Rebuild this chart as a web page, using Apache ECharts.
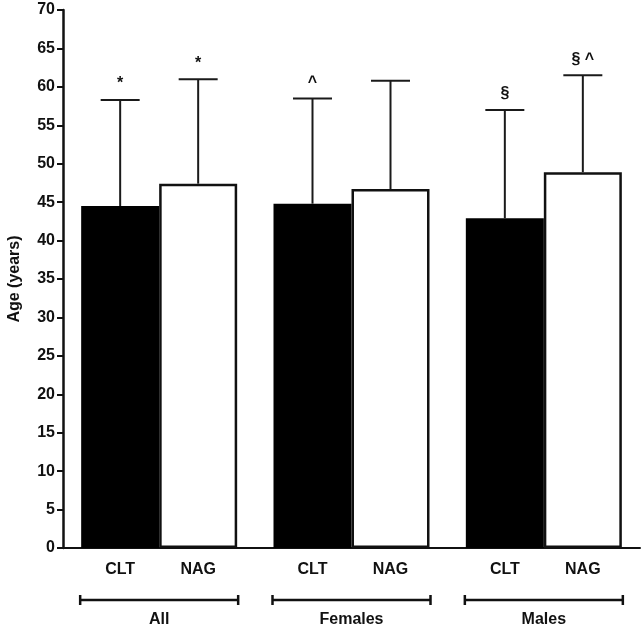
<!DOCTYPE html>
<html><head><meta charset="utf-8">
<script src="https://cdn.jsdelivr.net/npm/echarts@6/dist/echarts.min.js"></script>
<style>html,body{margin:0;padding:0;background:#fff}#c{width:642px;height:628px}</style>
</head><body><div id="c"></div>
<script>
const groups = ['All', 'Females', 'Males'];
const seriesNames = ['CLT', 'NAG'];
const cltMean = [44.5, 44.8, 42.9];
const cltSD = [13.8, 13.7, 14.1];
const nagMean = [47.4, 46.7, 48.9];
const nagSD = [13.6, 14.1, 12.6];
const cltAnn = ['*', '^', '§'];
const nagAnn = ['*', '', '§ ^'];
const yTicks = [0, 5, 10, 15, 20, 25, 30, 35, 40, 45, 50, 55, 60, 65, 70];

const FONT = '"Liberation Sans", Arial, sans-serif';
const BW = 78;

function errSeries(name, means, sds, anns, dir) {
  return {
    type: 'custom', name: name + '-err', z: 5,
    data: means.map((m, i) => [i, m, sds[i]]),
    renderItem: function (params, api) {
      const i = api.value(0), m = api.value(1), sd = api.value(2);
      const ann = anns[i];
      const b = api.coord([i, m]);
      const t = api.coord([i, m + sd]);
      const x = b[0] + dir * BW / 2;
      const cap = BW / 4;
      const children = [
        {type: 'line', shape: {x1: x, y1: b[1], x2: x, y2: t[1]}, style: {stroke: '#1a1a1a', lineWidth: 2}},
        {type: 'line', shape: {x1: x - cap, y1: t[1], x2: x + cap, y2: t[1]}, style: {stroke: '#1a1a1a', lineWidth: 2}}
      ];
      if (ann) {
        children.push({type: 'text', style: {text: ann, x: x, y: t[1] - 8, align: 'center', verticalAlign: 'bottom',
          font: 'bold 16px ' + FONT, fill: '#111'}});
      }
      return {type: 'group', children: children};
    }
  };
}

const chart = echarts.init(document.getElementById('c'), null, {renderer: 'canvas'});
chart.setOption({
  animation: false,
  backgroundColor: '#fff',
  grid: {left: 63, right: 2, top: 10, bottom: 80, containLabel: false, outerBoundsMode: 'none'},
  xAxis: {
    type: 'category', data: groups,
    axisLine: {lineStyle: {color: '#111', width: 2}},
    axisTick: {show: false},
    axisLabel: {margin: 64, fontFamily: FONT, fontWeight: 'bold', fontSize: 16, color: '#111'}
  },
  yAxis: {
    type: 'value', min: 0, max: 70, interval: 5,
    name: 'Age (years)', nameLocation: 'middle', nameGap: 40, nameRotate: 90,
    nameTextStyle: {fontFamily: FONT, fontWeight: 'bold', fontSize: 16, color: '#111'},
    splitLine: {show: false},
    axisLine: {show: true, lineStyle: {color: '#111', width: 2.5}},
    axisTick: {show: true, length: 6, lineStyle: {color: '#111', width: 2}},
    axisLabel: {fontFamily: FONT, fontWeight: 'bold', fontSize: 16, color: '#111', margin: 8,
      formatter: v => yTicks.includes(v) ? String(v) : ''}
  },
  series: [
    {
      type: 'bar', name: seriesNames[0], data: cltMean, barWidth: BW, barGap: '0%',
      itemStyle: {color: '#000', borderColor: '#000', borderWidth: 0},
      label: {show: true, position: 'bottom', distance: 14, formatter: seriesNames[0],
        fontFamily: FONT, fontWeight: 'bold', fontSize: 16, color: '#111'}
    },
    {
      type: 'bar', name: seriesNames[1], data: nagMean, barWidth: BW, barGap: '0%',
      itemStyle: {color: '#fff', borderColor: '#111', borderWidth: 2.5},
      label: {show: true, position: 'bottom', distance: 14, formatter: seriesNames[1],
        fontFamily: FONT, fontWeight: 'bold', fontSize: 16, color: '#111'}
    },
    errSeries('CLT', cltMean, cltSD, cltAnn, -1),
    errSeries('NAG', nagMean, nagSD, nagAnn, 1),
    {
      type: 'custom', name: 'brackets', z: 5,
      data: groups.map((g, i) => [i, 0]),
      renderItem: function (params, api) {
        const i = api.value(0);
        const p = api.coord([i, 0]);
        const y = p[1] + 52;
        const half = BW + 1;
        const st = {stroke: '#111', lineWidth: 2.5};
        return {type: 'group', children: [
          {type: 'line', shape: {x1: p[0] - half, y1: y, x2: p[0] + half, y2: y}, style: st},
          {type: 'line', shape: {x1: p[0] - half, y1: y - 5, x2: p[0] - half, y2: y + 5}, style: st},
          {type: 'line', shape: {x1: p[0] + half, y1: y - 5, x2: p[0] + half, y2: y + 5}, style: st}
        ]};
      }
    }
  ]
});
</script></body></html>
